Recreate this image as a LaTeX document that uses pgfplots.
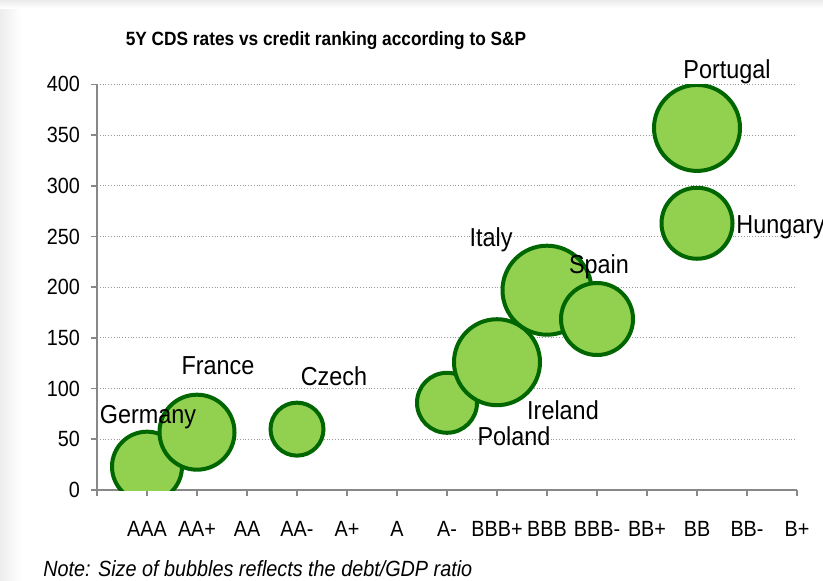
\documentclass[border=0pt]{standalone}
\usepackage{pgfplots}
\pgfplotsset{compat=1.18}
\usepackage{pgfplotstable}
\usepackage{fontspec}
\setmainfont{Liberation Sans}[FakeStretch=0.9]
\definecolor{bubfill}{HTML}{92D050}
\definecolor{bubline}{HTML}{006600}
\definecolor{axgray}{HTML}{888888}

\pgfplotstableread{
x y r
1 23 17.5
2 57 18.75
4 60 13.25
7 86 15
8 126 21.5
9 197 22.25
10 168.6 18
12 263 17.75
12 357 21.5
}\bubbles

\begin{document}
\begin{tikzpicture}
\fill[white] (-48.5pt,-45pt) rectangle (363pt,245pt);
\shade[left color=black!7, right color=white] (-48.5pt,-45pt) rectangle (-38pt,245pt);
\shade[top color=black!8, bottom color=white] (-48.5pt,241pt) rectangle (363pt,245pt);
\begin{axis}[
  scale only axis, width=350pt, height=202.85pt,
  xmin=0, xmax=14, ymin=0, ymax=400,
  axis x line*=bottom, axis y line*=left,
  xtick={0,...,14},
  xticklabels={,AAA,AA+,AA,AA-,A+,A,A-,BBB+,BBB,BBB-,BB+,BB,BB-,B+},
  ytick={0,50,...,400},
  ymajorgrids, grid style={densely dotted, black!40, line width=0.4pt},
  tick align=outside, major tick length=3pt,
  tick style={axgray, line width=0.8pt},
  axis line style={axgray, line width=1pt},
  tick label style={font=\fontsize{11}{13}\selectfont},
  /pgf/number format/assume math mode=true,
  xticklabel style={anchor=base, yshift=-20pt},
  yticklabel style={anchor=east, xshift=-2pt},
  clip marker paths=true,
  scatter/use mapped color={draw=bubline, fill=bubfill},
]
\addplot[scatter, only marks, mark=*, mark options={line width=2pt},
  visualization depends on={\thisrow{r} \as \rad},
  scatter/@pre marker code/.append style={/tikz/mark size=\rad pt}]
  table[x=x, y=y] {\bubbles};
\coordinate (lGer) at (axis cs:1.02,66);
\coordinate (lFra) at (axis cs:2.42,113.4);
\coordinate (lCze) at (axis cs:4.74,103.5);
\coordinate (lPol) at (axis cs:8.34,43.4);
\coordinate (lIre) at (axis cs:9.32,70);
\coordinate (lIta) at (axis cs:7.88,239.6);
\coordinate (lSpa) at (axis cs:10.04,213.9);
\coordinate (lHun) at (axis cs:12.78,253.4);
\coordinate (lPor) at (axis cs:12.6,406.2);
\end{axis}
\begin{scope}[every node/.style={font=\fontsize{13}{15}\selectfont, inner sep=0pt}]
\node[anchor=base] at (lGer) {Germany};
\node[anchor=base] at (lFra) {France};
\node[anchor=base] at (lCze) {Czech};
\node[anchor=base] at (lPol) {Poland};
\node[anchor=base] at (lIre) {Ireland};
\node[anchor=base] at (lIta) {Italy};
\node[anchor=base] at (lSpa) {Spain};
\node[anchor=base west] at (lHun) {Hungary};
\node[anchor=base] at (lPor) {Portugal};
\end{scope}
\node[anchor=base, font=\bfseries\fontsize{9.6}{12}\selectfont, inner sep=0pt] at (114.5pt,222.5pt) {5Y CDS rates vs credit ranking according to S\&P};
\node[anchor=base west, font=\itshape\fontsize{11}{13}\selectfont, inner sep=0pt] at (-27pt,-43pt) {Note: Size of bubbles reflects the debt/GDP ratio};
\pgfresetboundingbox
\useasboundingbox (-48.5pt,-45pt) rectangle (363pt,245pt);
\end{tikzpicture}
\end{document}
